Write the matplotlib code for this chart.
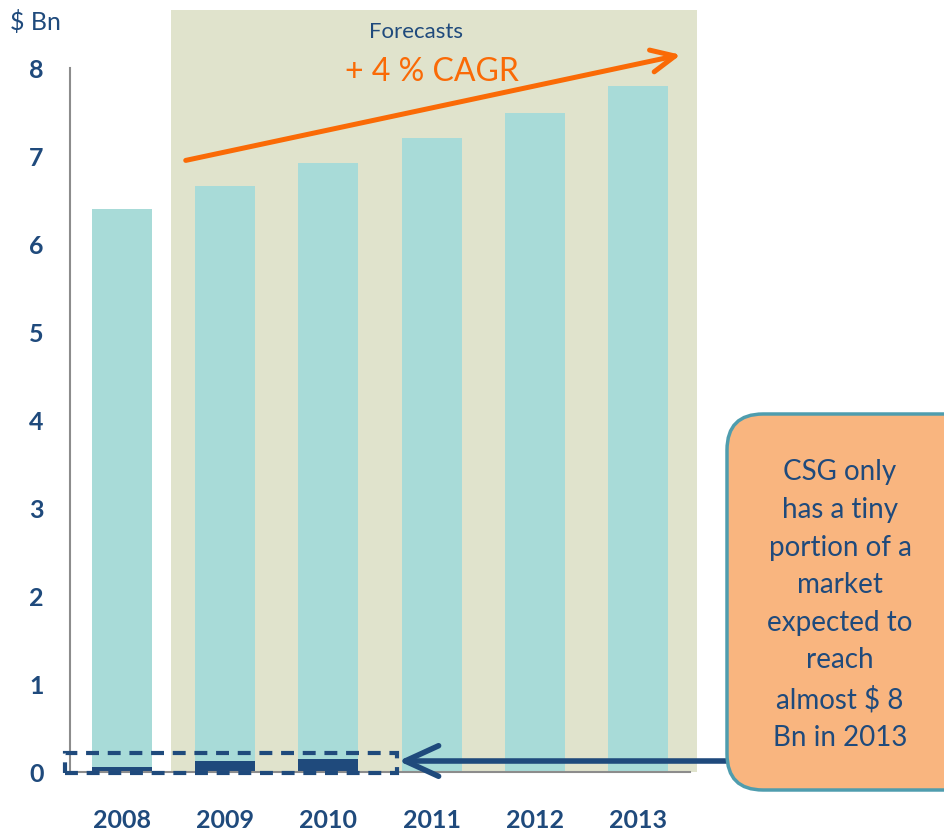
import matplotlib.pyplot as plt
from matplotlib.patches import Rectangle, FancyBboxPatch, ArrowStyle
import numpy as np

plt.rcParams['font.family'] = ['Lato', 'DejaVu Sans']

years = ['2008', '2009', '2010', '2011', '2012', '2013']
market = [6.40, 6.66, 6.92, 7.20, 7.49, 7.80]
csg = [0.06, 0.125, 0.15, 0, 0, 0]
yticks = [0, 1, 2, 3, 4, 5, 6, 7, 8]

navy = '#1F4A7C'
teal = '#A8DBD8'
shade = '#E0E3CC'
orange = '#FA6A06'

fig = plt.figure(figsize=(9.45, 8.31), dpi=100)
ax = fig.add_axes([70/945, 59/831, 620/945, 704/831])
x = np.arange(len(years))

# forecast band
ax.add_patch(Rectangle((0.475, 0), 5.095, 8.66, facecolor=shade, edgecolor='none',
                       zorder=0, clip_on=False))
ax.bar(x, market, width=0.58, color=teal, zorder=2)
ax.bar(x, csg, width=0.58, color=navy, zorder=3)

ax.set_xlim(-0.5, 5.5)
ax.set_ylim(0, 8)
ax.set_xticks(x)
ax.set_xticklabels(years)
ax.set_yticks(yticks)
ax.tick_params(length=0, labelsize=18, labelcolor=navy)
ax.tick_params(axis='y', pad=19)
ax.tick_params(axis='x', pad=27)
for lab in ax.get_xticklabels() + ax.get_yticklabels():
    lab.set_fontweight('bold')
for s in ['top', 'right']:
    ax.spines[s].set_visible(False)
for s in ['left', 'bottom']:
    ax.spines[s].set_color('#8C8C8C')
    ax.spines[s].set_linewidth(1.5)
    ax.spines[s].set_zorder(4)
ax.patch.set_alpha(0)

fig.text(10/945, 1 - 22/831, '$ Bn', fontsize=18, color=navy, va='center')
ax.text(2.85, 8.41, 'Forecasts', fontsize=16, color=navy, ha='center', va='center')
ax.text(3.0, 7.95, '+ 4 % CAGR', fontsize=23, color=orange, ha='center', va='center')

# CAGR arrow
ax.annotate('', xy=(5.41, 8.15), xytext=(0.62, 6.95),
            arrowprops=dict(arrowstyle=ArrowStyle('->', head_length=0.85, head_width=0.4),
                            mutation_scale=20, lw=3.6, color=orange, shrinkA=0, shrinkB=0,
                            capstyle='round', joinstyle='round'),
            annotation_clip=False, zorder=5)

# dashed box around CSG share
ax.add_patch(Rectangle((-0.55, -0.01), 3.21, 0.226, fill=False, edgecolor=navy, lw=3,
                       ls=(0, (3.1, 2.1)), clip_on=False, zorder=5))
ax.annotate('', xy=(2.68, 0.125), xytext=(5.9, 0.125),
            arrowprops=dict(arrowstyle=ArrowStyle('->', head_length=1.2, head_width=0.55),
                            mutation_scale=20, lw=4, color=navy, shrinkA=0, shrinkB=0,
                            capstyle='round', joinstyle='round'),
            annotation_clip=False, zorder=5)

# callout box (pixel overlay)
ov = fig.add_axes([0, 0, 1, 1])
ov.set_xlim(0, 945)
ov.set_ylim(831, 0)
ov.axis('off')
ov.add_patch(FancyBboxPatch((727, 414), 260, 376, boxstyle='round,pad=0,rounding_size=36',
                            facecolor='#F9B57F', edgecolor='#4F9DAE', lw=2.5))
ov.text(840, 605, 'CSG only\nhas a tiny\nportion of a\nmarket\nexpected to\nreach\nalmost $ 8\nBn in 2013',
        fontsize=20, color=navy, ha='center', va='center', linespacing=1.55)

fig.savefig('out.png', dpi=100)
